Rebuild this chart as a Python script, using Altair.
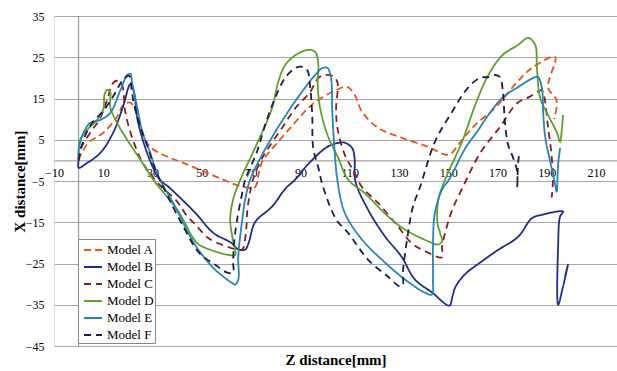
import altair as alt
import pandas as pd

models = ["Model A", "Model B", "Model C", "Model D", "Model E", "Model F"]
colors = ["#E8541C", "#1F2D8C", "#8E1B1B", "#5DA12B", "#2486B8", "#1B1F4B"]
dashes = [[7, 4], [1, 0], [7, 5], [1, 0], [1, 0], [7, 5]]

# Model A
a_z = [0, 1, 4, 10, 15.6, 18.2, 21, 23, 25, 29, 36, 42, 50, 58, 66, 71.5, 73, 74.5, 81, 88, 94.7, 103, 109, 112, 115, 121.5, 131, 141.8, 148.7, 151, 155, 161, 169, 178, 184, 193.4, 190.5, 194, 193]
a_x = [0, 1.5, 4.3, 6.7, 10.6, 13.5, 14, 12.3, 8.2, 3.3, 0.9, -0.5, -2.5, -4.5, -6.3, -6.5, -3.5, -0.3, 4.5, 9.3, 13.5, 16.6, 17.8, 15.9, 11.8, 7.9, 5.5, 3.3, 1.4, 1.6, 4.5, 8.6, 12.7, 19, 22.4, 25.1, 17.6, 14.5, 10]
# Model B
b_z = [0, 0, 3, 8.8, 14, 18, 21, 22.5, 23.7, 26, 30, 33, 37, 47.3, 54.7, 62, 64.8, 67.6, 69, 71.6, 78.5, 84, 88, 93, 101, 106, 108, 111, 112, 112.3, 117.5, 124.4, 131, 136.5, 143.4, 150.5, 151.7, 153, 157, 162.9, 170, 178.4, 184, 188, 196.6, 195.4, 194.6, 194.6, 196.6, 198.6, 197.4]
b_x = [0, -1.8, -0.8, 1.8, 6.7, 13, 18.5, 16.5, 10.5, 5, -1.5, -4.7, -6.7, -12.7, -17.6, -20, -21.6, -21.6, -20, -15, -11.2, -6.8, -4.6, -1, 3.3, 4.3, 4.3, 3, 0.6, -5, -12, -18.5, -23.3, -28.9, -32, -35.2, -33, -30.6, -27.5, -24.8, -21.8, -18.5, -14, -13.2, -12.4, -13.6, -20.9, -35, -30.6, -25.3, -28.2]
# Model C
c_z = [0, 0.6, 4.7, 8.8, 11.6, 14, 15.7, 17.5, 19, 22, 26, 32, 40, 44, 47.3, 53, 60.7, 64.3, 66.4, 67.8, 68.5, 69.5, 70.5, 73.7, 77, 82.6, 88, 94, 97.3, 100, 103, 105, 104.5, 105, 108, 112, 115, 121.5, 129.6, 135, 140.6, 147.5, 147.5, 149, 151.6, 156, 163, 171, 178, 183, 188, 189, 190.5, 192, 192.5, 192]
c_x = [0, 2.6, 6.7, 10.3, 14.7, 18.8, 19.3, 18.5, 11.5, 5, -0.6, -5.4, -10, -13.5, -15.5, -19, -21, -21.6, -21.6, -18, -12, -8, -5.2, -0.3, 3, 7.9, 12.7, 16.6, 20, 20.7, 20.5, 19, 12.7, 8, 1.4, -3, -6.5, -10.3, -16, -20, -22, -23.5, -21, -17, -12, -6.4, 1.8, 8.1, 13.9, 15.4, 17, 15.4, 8.1, 0.9, -4.7, -9]
# Model D
d_z = [0, 0.6, 3.5, 7.5, 10, 10.5, 11.6, 12.8, 12.8, 15.6, 19.7, 25, 30.3, 40, 48, 51.4, 60.7, 63.5, 62.5, 61.5, 62.7, 65.6, 71.6, 78.5, 81, 83.8, 88, 93, 96, 97.3, 97, 98, 101, 105.3, 109.4, 116, 125.6, 132.5, 143.4, 145.6, 147.5, 146.7, 145.6, 146, 148.7, 155.6, 161, 166.3, 172, 178.4, 182.5, 185.3, 186, 187.3, 190.5, 194, 195.4, 196, 196.6]
d_x = [0, 5, 7.4, 9.8, 12.3, 15.9, 17.1, 16.6, 13, 9.1, 5, 0.2, -4.7, -12, -20, -21.2, -22.9, -22.9, -19, -14.4, -9.5, -4.7, 3, 12.7, 19, 23.1, 25.5, 26.8, 26.3, 23.1, 19, 12.7, 6.2, 0.7, -4.7, -7.9, -13.6, -16.8, -20, -20.4, -19.7, -17.6, -15.1, -9.5, -4.7, 4.5, 13.5, 20.7, 25.5, 28, 29.7, 28, 22.4, 15.2, 11, 6.9, 4.5, 6.9, 11]
# Model E
e_z = [0, 0, 2, 4.7, 8.8, 12.8, 17, 19.7, 21, 21.7, 23.7, 26, 29, 32, 39, 45.3, 49, 55.4, 62, 63.5, 64.8, 64.8, 66.4, 67.6, 69.6, 74.5, 79.8, 85, 90.6, 96, 99, 101, 102.4, 103, 104, 105, 108, 115, 124.4, 132.5, 140.6, 143.4, 143.8, 143.8, 144.6, 147.5, 150.5, 157, 162, 166.3, 172, 178.4, 185.3, 186.5, 188, 188.6, 189.4, 191.4, 193.4, 194, 194.6, 195.4]
e_x = [0, 2.6, 6.7, 9.1, 9.8, 11.5, 17.1, 20.7, 21, 18.8, 13, 6.7, 1.9, -3.5, -11, -18.5, -22, -26.5, -29.6, -30.1, -28.9, -23.3, -14.4, -9.5, -4.7, 1.4, 6.9, 11.8, 16.6, 20.7, 22.4, 22.4, 20, 11, 1.4, -4.7, -12.7, -19.2, -24.8, -28.9, -32.1, -32.5, -28.9, -20.9, -12.7, -7.1, -4.5, 3, 7.2, 11, 15.2, 17.8, 20.2, 20.2, 17.6, 11, 5.5, -0.3, -5.9, -7.6, -1, 3]
# Model F
f_z = [0, 1, 3, 6, 10, 14, 18, 20.5, 21.5, 22.5, 25, 28, 31, 36, 42, 49, 55.4, 60.3, 62.7, 62.7, 63.1, 64.3, 66.4, 67.6, 72.4, 75.7, 79.8, 83.8, 88, 90.6, 92.7, 94, 94.8, 95.2, 97.3, 99, 104.5, 109.4, 117.5, 125.6, 130.5, 131.6, 131.6, 133.3, 135.7, 138.6, 144.6, 151.6, 158, 162.9, 166.3, 169, 171, 172.2, 173, 174.3, 176.3, 178, 178, 178.4, 179]
f_x = [0, 3, 6.5, 9.5, 12, 15.5, 19.5, 20.5, 17, 13.5, 8.2, 3.3, -2, -8.5, -15.5, -22.5, -25.3, -27.2, -27.2, -24.8, -20, -14.4, -7.9, -4.7, 2.1, 8.6, 15.2, 20, 22.4, 22.7, 22, 17.6, 11, 3, -1.8, -6, -14.3, -17.6, -24.1, -28.2, -30.6, -30.1, -27.2, -19.2, -11.2, -6.4, 4.5, 11.8, 17.6, 20, 20.2, 20.7, 20.2, 16.6, 9.3, 3.8, 0.7, -2.7, -6.6, -0.3, 2.1]

x_ticks = [-10, 10, 30, 50, 70, 90, 110, 130, 150, 170, 190, 210]
y_ticks = [35, 25, 15, 5, -5, -15, -25, -35, -45]

series = [(a_z, a_x), (b_z, b_x), (c_z, c_x), (d_z, d_x), (e_z, e_x), (f_z, f_x)]
rows = []
for m, (zs, xs) in zip(models, series):
    for i, (zv, xv) in enumerate(zip(zs, xs)):
        rows.append({"model": m, "z": zv, "x": xv, "idx": i})
df = pd.DataFrame(rows)

FONT = "Times New Roman"
W, H = 563, 330
y0_offset = -(H - H * 35 / 80)

xscale = alt.Scale(domain=[-10, 218.5], nice=False, zero=False)
yscale = alt.Scale(domain=[-45, 35], nice=False, zero=False)

vline = alt.Chart(pd.DataFrame({"z": [0]})).mark_rule(color="#8c8c8c", strokeWidth=1).encode(
    x=alt.X("z:Q", scale=xscale)
)

legend_opts = dict(title=None, orient="none", legendX=24, legendY=223,
                   symbolType="stroke", symbolSize=324, symbolStrokeWidth=2,
                   symbolOffset=4, labelFont=FONT, labelFontSize=13, labelColor="#000",
                   strokeColor="#888888", fillColor="white",
                   padding=1, rowPadding=-2.2, labelOffset=4)

lines = alt.Chart(df).mark_line(strokeWidth=1.8, interpolate="catmull-rom", clip=True).encode(
    x=alt.X("z:Q", scale=xscale, title="Z distance[mm]",
            axis=alt.Axis(values=x_ticks, offset=y0_offset, grid=False, ticks=False,
                          domainColor="#8c8c8c", labelPadding=7, labelFont=FONT,
                          labelFontSize=12, labelColor="#000", labelFlush=False,
                          titleFont=FONT, titleFontSize=15, titleFontWeight="bold",
                          titleColor="#000", titleY=199, titleBaseline="middle")),
    y=alt.Y("x:Q", scale=yscale, title="X distance[mm]",
            axis=alt.Axis(values=y_ticks, grid=True, gridColor="#a6a6a6", domain=False,
                          ticks=False, labelPadding=10, labelFont=FONT, labelFontSize=12,
                          labelColor="#000", labelFlush=False, titleFont=FONT,
                          titleFontSize=15, titleFontWeight="bold", titleColor="#000",
                          titleX=-35, titleY=H / 2, titleBaseline="middle")),
    color=alt.Color("model:N", scale=alt.Scale(domain=models, range=colors),
                    legend=alt.Legend(**legend_opts)),
    strokeDash=alt.StrokeDash("model:N", scale=alt.Scale(domain=models, range=dashes),
                              legend=alt.Legend(**legend_opts)),
    order="idx:Q",
)

chart = alt.layer(vline, lines).properties(
    width=W, height=H,
    autosize=alt.AutoSizeParams(type="none"),
    padding={"left": 54, "top": 16, "right": 0, "bottom": 25},
).configure_view(stroke=None).configure(background="white", font=FONT)

chart.save("out.html", embed_options={"renderer": "svg", "actions": False})
